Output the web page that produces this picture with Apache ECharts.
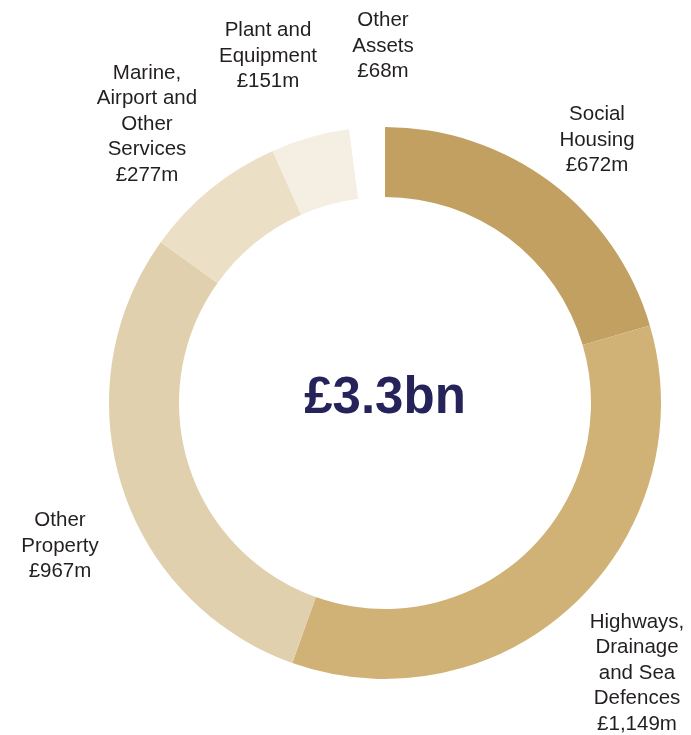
<!DOCTYPE html>
<html>
<head>
<meta charset="utf-8">
<script src="https://cdn.jsdelivr.net/npm/echarts@6/dist/echarts.min.js"></script>
<style>
html,body{margin:0;padding:0;background:#fff;}
#chart{width:691px;height:735px;}
</style>
</head>
<body>
<div id="chart"></div>
<script>
// Data
var categories = ['Social\nHousing', 'Highways,\nDrainage\nand Sea\nDefences', 'Other\nProperty', 'Marine,\nAirport and\nOther\nServices', 'Plant and\nEquipment', 'Other\nAssets'];
var values = [672, 1149, 967, 277, 151, 68];
var totalLabel = '£3.3bn';

// Styles / layout (not data)
var colors = ['#c1a062', '#d0b276', '#e0d0ad', '#ebdfc6', '#f5efe3', '#ffffff'];
var labelPos = [[597, 140], [637, 673], [60, 546], [147, 124], [268, 56], [383, 46]];

var chart = echarts.init(document.getElementById('chart'));
var data = values.map(function (v, i) {
  return { name: categories[i], value: v, itemStyle: { color: colors[i] } };
});
chart.setOption({
  animation: false,
  series: [{
    type: 'pie',
    center: [385, 403],
    radius: [206, 276],
    startAngle: 90,
    clockwise: true,
    silent: true,
    data: data,
    label: {
      show: true,
      position: 'outside',
      formatter: function (p) {
        return p.name + '\n£' + p.value.toLocaleString('en-GB') + 'm';
      },
      color: '#231f20',
      fontFamily: '"Liberation Sans", Arial, sans-serif',
      fontSize: 20.5,
      lineHeight: 25.5,
      align: 'center',
      overflow: 'none',
      width: 200
    },
    labelLine: { show: false },
    labelLayout: function (p) {
      var pos = labelPos[p.dataIndex];
      return { x: pos[0], y: pos[1], align: 'center', verticalAlign: 'middle', hideOverlap: false };
    }
  }],
  graphic: [{
    type: 'text',
    x: 385,
    y: 399,
    style: {
      text: totalLabel,
      fill: '#25235a',
      font: 'bold 51px "Liberation Sans", Arial, sans-serif',
      textAlign: 'center',
      textVerticalAlign: 'middle'
    }
  }]
});
</script>
</body>
</html>
